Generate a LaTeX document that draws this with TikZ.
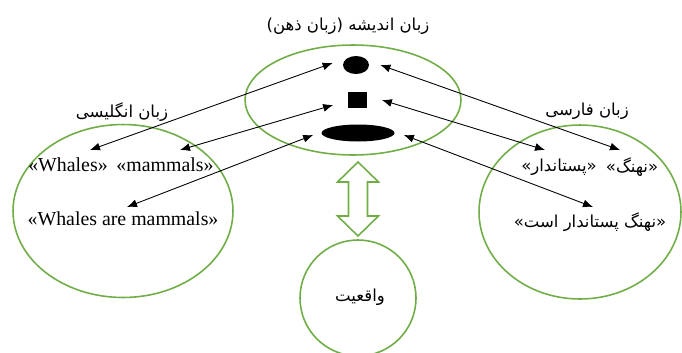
\documentclass[tikz,border=0pt]{standalone}
\usepackage{fontspec}
\setmainfont{Liberation Serif}
\newfontfamily\persianfont[Script=Arabic]{DejaVu Sans}
\TeXXeTstate=1
\usetikzlibrary{shapes.geometric,arrows.meta}
\definecolor{ringgreen}{RGB}{112,173,71}
\tikzset{
  ring/.style={draw=ringgreen, line width=0.9pt, ellipse, inner sep=0pt},
  blob/.style={fill=black, inner sep=0pt},
  en/.style={font=\fontsize{11.3}{13}\selectfont, inner sep=0pt},
  fa/.style={font=\fontsize{9.4}{12}\persianfont, inner sep=0pt},
  link/.style={{Latex[length=2mm,width=1.6mm]}-{Latex[length=2mm,width=1.6mm]}, line width=0.5pt},
}
\begin{document}
\begin{tikzpicture}[x=0.02cm, y=-0.02cm]
\useasboundingbox (0,0) rectangle (682,352);
% the three languages and reality
\node[ring, minimum width=4.32cm, minimum height=2.2cm] (mind) at (353,100) {};
\node[ring, minimum width=4.4cm, minimum height=3.46cm] (english) at (123,211) {};
\node[ring, minimum width=4.04cm, minimum height=3.48cm] (persian) at (580,212) {};
\node[ring, circle, minimum size=2.32cm] (reality) at (358,298) {};
\node[fa] (realitytext) at (360,297) {\beginR واقعیت\endR};
% titles
\node[fa] (mindtitle) at (348,26) {\beginR زبان اندیشه (زبان ذهن)\endR};
\node[fa] (entitle) at (122,112) {\beginR زبان انگلیسی\endR};
\node[fa] (fatitle) at (587,111) {\beginR زبان فارسی\endR};
% concepts
\node[blob, ellipse, minimum width=0.52cm, minimum height=0.36cm] (dot) at (356,65) {};
\node[blob, rectangle, minimum width=0.38cm, minimum height=0.32cm] (box) at (357,100) {};
\node[blob, ellipse, minimum width=1.46cm, minimum height=0.34cm] (oval) at (358,133) {};
% words
\node[en] (whales) at (68,165) {«Whales»};
\node[en] (mammals) at (165,165) {«mammals»};
\node[en] (sentence) at (123,219) {«Whales are mammals»};
\node[fa] (nahang) at (632,167) {\beginR «نهنگ»\endR};
\node[fa] (pestandar) at (559,167) {\beginR «پستاندار»\endR};
\node[fa] (jomle) at (590,222) {\beginR «نهنگ پستاندار است»\endR};
% links
\draw[link] ([shift={(-10,-2)}]dot.west) -- ([shift={(22,-15)}]whales.center);
\draw[link] ([shift={(-14,5)}]box.west) -- ([shift={(15,-15)}]mammals.center);
\draw[link] ([shift={(-8,2)}]oval.west) -- ([shift={(4,-12)}]sentence.center);
\draw[link] ([shift={(11,0)}]dot.east) -- ([shift={(-12,-17)}]nahang.center);
\draw[link] ([shift={(15,0)}]box.east) -- ([shift={(-14,-17)}]pestandar.center);
\draw[link] ([shift={(9,2)}]oval.east) -- ([shift={(3,-15)}]jomle.center);
% double arrow between mind and reality
\draw[ringgreen, line width=0.9pt] (358,162) -- (378.5,182) -- (367.5,182) -- (367.5,216) -- (378.5,216)
  -- (358,236) -- (337.5,216) -- (348.5,216) -- (348.5,182) -- (337.5,182) -- cycle;
\end{tikzpicture}
\end{document}
